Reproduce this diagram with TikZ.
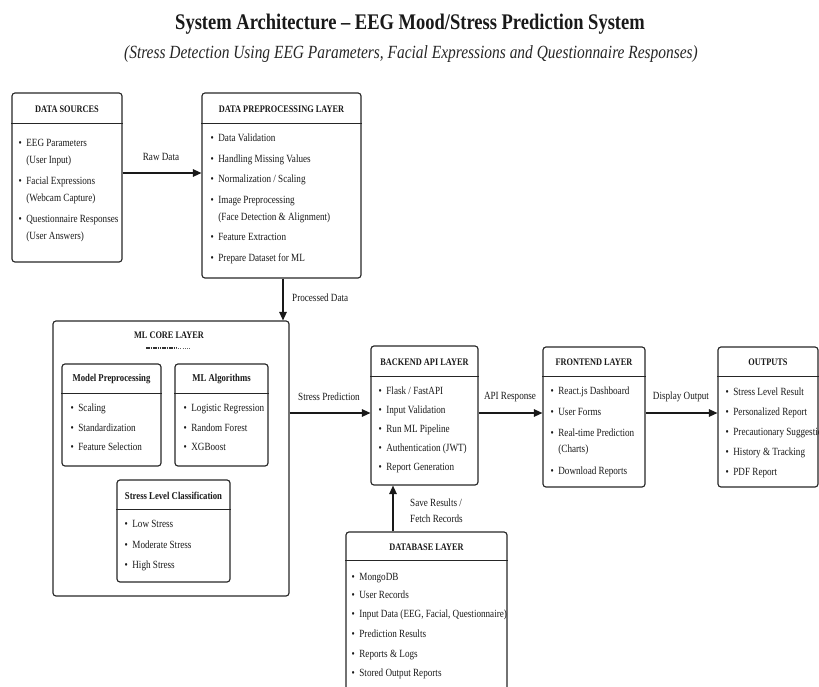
\documentclass[tikz,border=0pt]{standalone}
\usepackage{fontspec}
\setmainfont{Liberation Serif}[FakeStretch=0.83]
\usetikzlibrary{arrows.meta,fit,calc}
\newcommand{\lbox}[8][hdr]{%
  \node[box, fit={(#3,#4) (#5,#6)}] (#2) {};
  \draw[boxline] (#2.west |- 0,#7) -- (#2.east |- 0,#7);
  \node[#1] (#2-h) at ($(#2.north)!0.5!(#2.north |- 0,#7)$) {#8};
}
\newcommand{\itemlist}[4]{%
  \node[anchor=base west, inner sep=0pt, font=\fontsize{11}{17}\selectfont, text=black!90] (#1) at (#2,#3+3.8)
  {\begin{tabular}[t]{@{}l@{\hspace{4.5pt}}l@{}}#4\end{tabular}};
}
\newcommand{\bu}{\textbullet}
\begin{document}
\begin{tikzpicture}[x=1pt,y=-1pt,
  box/.style={draw=black!85, line width=1.15pt, rounded corners=3pt, inner sep=0pt},
  boxline/.style={draw=black!85, line width=1pt},
  hdr/.style={font=\fontsize{10}{12}\selectfont\bfseries, inner sep=0pt, text=black!90, yshift=-1.5pt},
  sub/.style={font=\fontsize{10.5}{12}\selectfont\bfseries, inner sep=0pt, text=black!90, yshift=-1.2pt},
  lbl/.style={font=\fontsize{11}{16}\selectfont, inner sep=0pt, text=black!90},
  arr/.style={line width=1.3pt, draw=black!90, -{Triangle[length=8.5pt,width=7.5pt]}},
]
\useasboundingbox (0,0) rectangle (819,686);
\clip (0,0) rectangle (819,686);

\node[font=\fontsize{22.3}{26}\selectfont\bfseries, text=black!90] (title) at (410,24) {System Architecture -- EEG Mood/Stress Prediction System};
\node[font=\fontsize{18.6}{21}\selectfont\itshape, text=black!85] (subtitle) at (411,54) {(Stress Detection Using EEG Parameters, Facial Expressions and Questionnaire Responses)};

% layer boxes
\lbox{ds}{12}{93}{122}{262}{123}{DATA SOURCES}
\lbox{pp}{202}{93}{361}{278}{123}{DATA PREPROCESSING LAYER}
\node[box, fit={(53,321) (289,596)}] (ml) {};
\node[hdr] (ml-h) at (169,334) {ML CORE LAYER};
\draw[line width=1.4pt, black!80, dash pattern=on 1.6pt off 0.7pt] (146,348) -- (176,348);
\draw[line width=1pt, black!60, dash pattern=on 1pt off 1.2pt] (176,348) -- (190,348);
\lbox[sub]{mp}{62}{364}{161}{466}{393}{Model Preprocessing}
\lbox[sub]{ma}{175}{364}{268}{466}{393}{ML Algorithms}
\lbox[sub]{sl}{117}{480}{230}{582}{509}{Stress Level Classification}
\lbox{be}{371}{346}{478}{485}{376}{BACKEND API LAYER}
\lbox{fe}{543}{347}{645}{487}{376}{FRONTEND LAYER}
\lbox{out}{718}{347}{818}{487}{376}{OUTPUTS}
\lbox{db}{346}{532}{507}{720}{560}{DATABASE LAYER}

% item lists
\itemlist{ds-i}{18.5}{143}{\bu & EEG Parameters\\ & (User Input)\\[4pt]
  \bu & Facial Expressions\\ & (Webcam Capture)\\[4pt]
  \bu & Questionnaire Responses\\ & (User Answers)}
\itemlist{pp-i}{210.5}{138}{\bu & Data Validation\\[3.5pt] \bu & Handling Missing Values\\[3.5pt]
  \bu & Normalization / Scaling\\[3.5pt] \bu & Image Preprocessing\\ & (Face Detection \& Alignment)\\[3.5pt]
  \bu & Feature Extraction\\[3.5pt] \bu & Prepare Dataset for ML}
\itemlist{mp-i}{70.5}{408}{\bu & Scaling\\[2.5pt] \bu & Standardization\\[2.5pt] \bu & Feature Selection}
\itemlist{ma-i}{183.5}{408}{\bu & Logistic Regression\\[2.5pt] \bu & Random Forest\\[2.5pt] \bu & XGBoost}
\itemlist{sl-i}{124.5}{524}{\bu & Low Stress\\[3.5pt] \bu & Moderate Stress\\[3.5pt] \bu & High Stress}
\itemlist{be-i}{378.5}{391}{\bu & Flask / FastAPI\\[1.8pt] \bu & Input Validation\\[1.8pt] \bu & Run ML Pipeline\\[1.8pt]
  \bu & Authentication (JWT)\\[1.8pt] \bu & Report Generation}
\itemlist{fe-i}{550.5}{391}{\bu & React.js Dashboard\\[4pt] \bu & User Forms\\[4pt] \bu & Real-time Prediction\\[-1pt] & (Charts)\\[5pt]
  \bu & Download Reports}
\itemlist{out-i}{725.5}{392}{\bu & Stress Level Result\\[3pt] \bu & Personalized Report\\[3pt] \bu & Precautionary Suggestions\\[3pt]
  \bu & History \& Tracking\\[3pt] \bu & PDF Report}
\itemlist{db-i}{351.5}{577}{\bu & MongoDB\\[0.5pt] \bu & User Records\\[2pt] \bu & Input Data (EEG, Facial, Questionnaire)\\[3pt]
  \bu & Prediction Results\\[3pt] \bu & Reports \& Logs\\[2pt] \bu & Stored Output Reports}

% connectors
\draw[arr] (ds.east |- 0,173) -- (pp.west |- 0,173);
\node[lbl] (l-raw) at (161,157) {Raw Data};
\draw[arr] (pp.south -| 283,0) -- (ml.north -| 283,0);
\node[lbl, anchor=west] (l-proc) at (292,298) {Processed Data};
\draw[arr] (ml.east |- 0,413) -- (be.west |- 0,413);
\node[lbl] (l-sp) at (329,397) {Stress Prediction};
\draw[arr] (be.east |- 0,413) -- (fe.west |- 0,413);
\node[lbl] (l-api) at (510,397) {API Response};
\draw[arr] (fe.east |- 0,413) -- (out.west |- 0,413);
\node[lbl] (l-disp) at (681,397) {Display Output};
\draw[arr] (db.north -| 393,0) -- (be.south -| 393,0);
\node[lbl, anchor=west, align=left] (l-save) at (410,511) {Save Results /\\Fetch Records};
\end{tikzpicture}
\end{document}
